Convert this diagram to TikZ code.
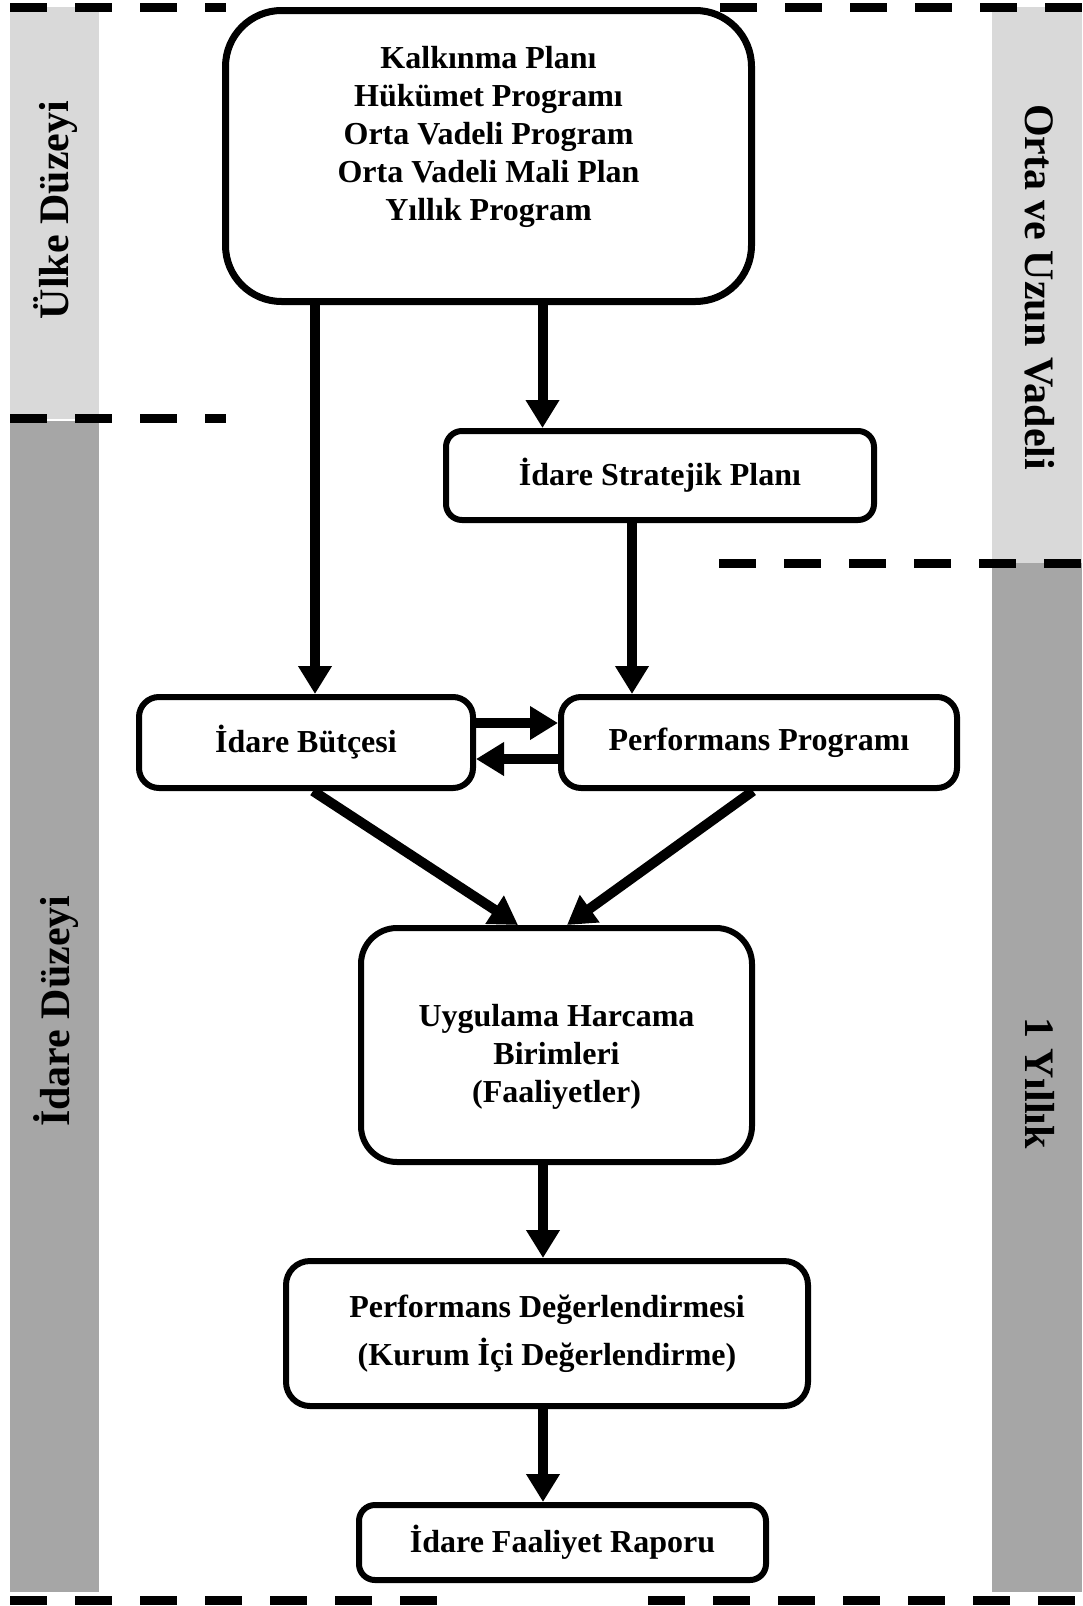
\documentclass[tikz,border=0pt]{standalone}
\usepackage{fontspec}
\setmainfont{Liberation Serif}
\usetikzlibrary{arrows.meta}
\definecolor{lightbar}{HTML}{D9D9D9}
\definecolor{darkbar}{HTML}{A6A6A6}
\tikzset{
	box/.style={draw, line width=3pt, rounded corners=8pt, align=center, inner sep=0pt, font=\bfseries\fontsize{16}{19}\selectfont},
	arr/.style={line width=5pt, -{Triangle[length=14pt,width=16pt]}},
	dashline/.style={line width=4.5pt, dash pattern=on 18.5pt off 14pt},
	side/.style={font=\bfseries\fontsize{21}{25}\selectfont}
}

\begin{document}
\begin{tikzpicture}[x=0.5pt, y=-0.5pt]
		%%%%% START %%%%%
		\useasboundingbox (0, 0) rectangle (1082, 1606);
		
		\fill[lightbar] (10, 7) rectangle (99, 419);
		\fill[darkbar] (10, 421) rectangle (99, 1592);
		\fill[lightbar] (992, 7) rectangle (1082, 563);
		\fill[darkbar] (992, 563) rectangle (1082, 1592);
		
		\node[side, rotate=90] (ulke) at (56, 210) {Ülke Düzeyi};
		\node[side, rotate=90] (idare) at (56, 1011) {İdare Düzeyi};
		\node[side, rotate=-90] (uzun) at (1040, 287) {Orta ve Uzun Vadeli};
		\node[side, rotate=-90] (yillik) at (1040, 1083) {1 Yıllık};
		
		\draw[dashline] (10, 7) -- (226, 7);
		\draw[dashline] (720, 7) -- (1082, 7);
		\draw[dashline] (10, 418) -- (226, 418);
		\draw[dashline] (719, 563) -- (1082, 563);
		\draw[dashline] (10, 1600) -- (439, 1600);
		\draw[dashline] (648, 1600) -- (1082, 1600);
		
		\node[box, line width=3.5pt, rounded corners=28pt, minimum width=263pt, minimum height=145.5pt] (plan) at (488.5, 156)
			{Kalkınma Planı\\Hükümet Programı\\Orta Vadeli Program\\Orta Vadeli Mali Plan\\Yıllık Program\\[4pt]\mbox{}};
		\node[box, minimum width=214pt, minimum height=44.5pt] (strateji) at (660, 475.5) {İdare Stratejik Planı};
		\node[box, rounded corners=10pt, minimum width=167pt, minimum height=45.5pt] (butce) at (306, 742.5) {İdare Bütçesi};
		\node[box, rounded corners=10pt, minimum width=198pt, minimum height=45.5pt] (perfprog) at (759, 742.5) {Performans Programı};
		\node[box, rounded corners=18pt, minimum width=195.5pt, minimum height=117pt] (uygulama) at (556.5, 1045)
			{\mbox{}\\[4pt]Uygulama Harcama\\Birimleri\\(Faaliyetler)};
		\node[box, rounded corners=12pt, minimum width=261pt, minimum height=72.5pt] (perfdeg) at (547, 1333.5)
			{Performans Değerlendirmesi\\[5pt](Kurum İçi Değerlendirme)};
		\node[box, minimum width=203.5pt, minimum height=37.5pt] (rapor) at (562.5, 1542.5) {İdare Faaliyet Raporu};
		
		\draw[arr] ([xshift=4.5pt]butce.north |- plan.south) -- ([xshift=4.5pt]butce.north);
		\draw[arr] ([xshift=27pt]plan.south) -- ([xshift=27pt]plan.south |- strateji.north);
		\draw[arr] ([xshift=-14pt]strateji.south) -- ([xshift=-14pt]strateji.south |- perfprog.north);
		
		\draw[arr] ([yshift=9.75pt]butce.east) -- ([yshift=9.75pt]perfprog.west);
		\draw[arr] ([yshift=-8.25pt]perfprog.west) -- ([yshift=-8.25pt]butce.east);
		
		\draw[arr] ([xshift=3.5pt]butce.south) -- ([xshift=-19.25pt]uygulama.north);
		\draw[arr] ([xshift=-3pt]perfprog.south) -- ([xshift=5.25pt]uygulama.north);
		
		\draw[arr] ([xshift=-6.75pt]uygulama.south) -- ([xshift=-6.75pt]uygulama.south |- perfdeg.north);
		\draw[arr] ([xshift=-2pt]perfdeg.south) -- ([xshift=-2pt]perfdeg.south |- rapor.north);
		
		%%%%% END %%%%%
\end{tikzpicture}
\end{document}
